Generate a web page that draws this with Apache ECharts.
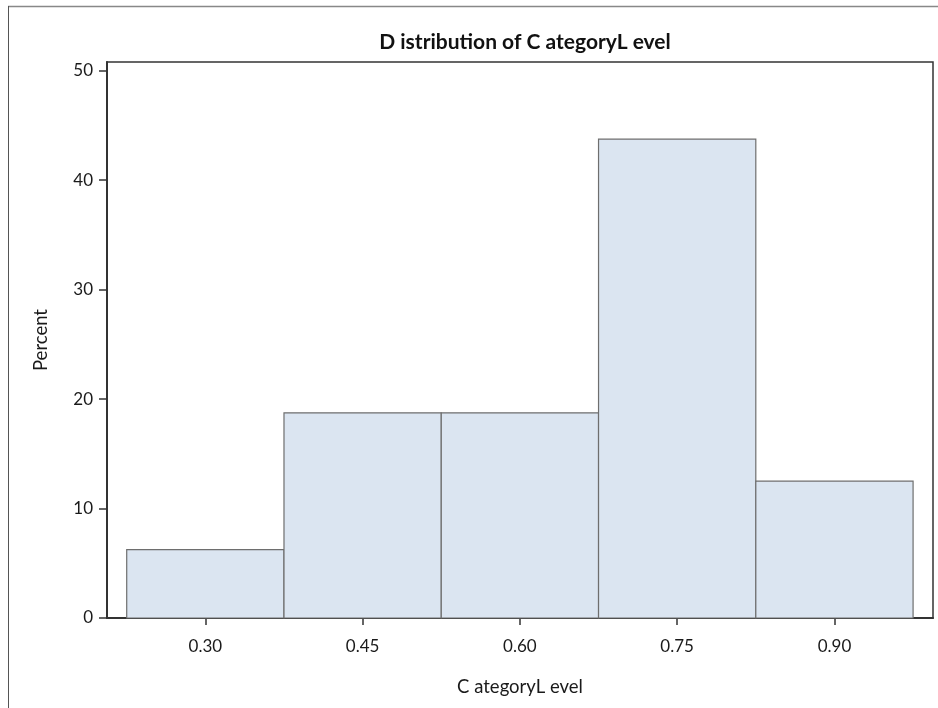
<!DOCTYPE html>
<html>
<head>
<meta charset="utf-8">
<script src="https://cdn.jsdelivr.net/npm/echarts@6/dist/echarts.min.js"></script>
<style>html,body{margin:0;padding:0;background:#fff}#c{width:938px;height:708px}</style>
</head>
<body>
<div id="c"></div>
<script>
var titleText = 'D istribution of C ategoryL evel';
var xName = 'C ategoryL evel';
var yName = 'Percent';
var binMids = [0.30, 0.45, 0.60, 0.75, 0.90];
var binWidth = 0.15;
var percents = [6.25, 18.75, 18.75, 43.75, 12.5];
var xTicks = [0.30, 0.45, 0.60, 0.75, 0.90];
var yTicks = [0, 10, 20, 30, 40, 50];

var chart = echarts.init(document.getElementById('c'), null, {renderer: 'canvas'});
var font = 'Lato, "Open Sans", sans-serif';
var data = binMids.map(function (m, i) { return [m, percents[i]]; });

chart.setOption({
  animation: false,
  backgroundColor: '#fff',
  title: {
    text: titleText, left: 520, top: 27, textAlign: 'center',
    textStyle: {fontFamily: font, fontSize: 21, fontWeight: 'bold', color: '#111'}
  },
  graphic: [
    {type: 'line', shape: {x1: 8, y1: 6.5, x2: 938, y2: 6.5}, style: {stroke: '#888', lineWidth: 1.5}},
    {type: 'line', shape: {x1: 8.5, y1: 6, x2: 8.5, y2: 708}, style: {stroke: '#555', lineWidth: 1}}
  ],
  grid: {left: 107, top: 62, right: 5, bottom: 90, show: true, borderColor: '#333', borderWidth: 1.5, backgroundColor: 'transparent'},
  xAxis: {
    type: 'value', min: 0.2062, max: 0.994,
    name: xName, nameLocation: 'middle', nameGap: 60,
    nameTextStyle: {fontFamily: font, fontSize: 18.5, color: '#1a1a1a'},
    axisLine: {show: true, lineStyle: {color: '#333', width: 2}},
    axisTick: {show: true, length: 7, lineStyle: {color: '#333', width: 1.5}, customValues: xTicks},
    axisLabel: {customValues: xTicks, formatter: function (v) { return v.toFixed(2); }, fontFamily: font, fontSize: 17, color: '#1a1a1a', margin: 20},
    splitLine: {show: false}
  },
  yAxis: {
    type: 'value', min: 0, max: 50.8,
    name: yName, nameLocation: 'middle', nameGap: 56,
    nameTextStyle: {fontFamily: font, fontSize: 18.5, color: '#1a1a1a'},
    axisLine: {show: true, lineStyle: {color: '#333', width: 2}},
    axisTick: {show: true, length: 8, lineStyle: {color: '#333', width: 1.5}, customValues: yTicks},
    axisLabel: {customValues: yTicks, fontFamily: font, fontSize: 17, color: '#1a1a1a', margin: 14},
    splitLine: {show: false}
  },
  series: [{
    type: 'custom',
    data: data,
    encode: {x: 0, y: 1},
    renderItem: function (params, api) {
      var m = api.value(0), v = api.value(1);
      var p0 = api.coord([m - binWidth / 2, v]);
      var p1 = api.coord([m + binWidth / 2, 0]);
      return {
        type: 'rect',
        shape: {x: p0[0], y: p0[1], width: p1[0] - p0[0], height: p1[1] - p0[1]},
        style: {fill: '#dbe5f1', stroke: '#6e6e6e', lineWidth: 1.2}
      };
    }
  }]
});
</script>
</body>
</html>
